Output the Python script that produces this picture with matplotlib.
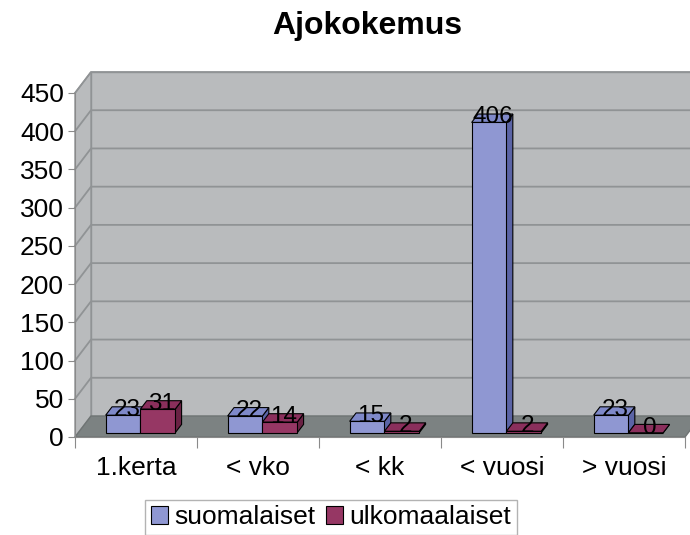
import matplotlib
matplotlib.use("Agg")
import matplotlib.pyplot as plt
from matplotlib.patches import Polygon, Patch
from matplotlib.ticker import FixedLocator, NullFormatter, FixedFormatter

plt.rcParams['font.family'] = ['Liberation Sans', 'DejaVu Sans']

title = "Ajokokemus"
categories = ["1.kerta", "< vko", "< kk", "< vuosi", "> vuosi"]
series_names = ["suomalaiset", "ulkomaalaiset"]
suomalaiset = [23, 22, 15, 406, 23]
ulkomaalaiset = [31, 14, 2, 2, 0]
y_ticks = [0, 50, 100, 150, 200, 250, 300, 350, 400, 450]

W, H = 690, 535
fig = plt.figure(figsize=(W / 100, H / 100), dpi=100)
ax_l, ax_r, ax_top, ax_bot = 75, 685, 93, 437
ax = fig.add_axes([ax_l / W, (H - ax_bot) / H, (ax_r - ax_l) / W, (ax_bot - ax_top) / H])
ncat = len(categories)
ymax = y_ticks[-1]
ax.set_xlim(0, ncat)
ax.set_ylim(0, ymax)

px_x = (ax_r - ax_l) / ncat
px_y = (ax_bot - ax_top) / ymax
DX = 16 / px_x
DY = 21 / px_y


def P(x, y, d):
    return (x + d * DX, y + d * DY)


wall = "#b9bbbd"
floor = "#7c8282"
grid = "#909395"

# back wall
ax.add_patch(Polygon([P(0, 0, 1), P(ncat, 0, 1), P(ncat, ymax, 1), P(0, ymax, 1)],
                     closed=True, facecolor=wall, edgecolor=grid, lw=1, clip_on=False, zorder=0))
# left wall
ax.add_patch(Polygon([P(0, 0, 0), P(0, 0, 1), P(0, ymax, 1), P(0, ymax, 0)],
                     closed=True, facecolor=wall, edgecolor=grid, lw=1, clip_on=False, zorder=0))
# gridlines
for v in y_ticks[1:]:
    ax.plot([P(0, v, 0)[0], P(0, v, 1)[0], P(ncat, v, 1)[0]],
            [P(0, v, 0)[1], P(0, v, 1)[1], P(ncat, v, 1)[1]],
            color=grid, lw=1.3, clip_on=False, zorder=1)
# floor
ax.add_patch(Polygon([P(0, 0, 0), P(ncat, 0, 0), P(ncat, 0, 1), P(0, 0, 1)],
                     closed=True, facecolor=floor, edgecolor="#6f7474", lw=1, clip_on=False, zorder=2))

colors = [("#8f97d2", "#7f89c9", "#5b64a6"), ("#963764", "#8a2f5c", "#6a2244")]
width = 0.285
start = 0.225
d0, d1 = 0.2, 0.6

for i in range(ncat):
    for s, vals in enumerate([suomalaiset, ulkomaalaiset]):
        v = vals[i]
        x0 = i + start + s * width
        x1 = x0 + width
        front, top, side = colors[s]
        kw = dict(closed=True, edgecolor="black", lw=0.8, clip_on=False, zorder=3 + i * 2 + s * 0.5)
        ax.add_patch(Polygon([P(x1, 0, d0), P(x1, v, d0), P(x1, v, d1), P(x1, 0, d1)], facecolor=side, **kw))
        ax.add_patch(Polygon([P(x0, v, d0), P(x1, v, d0), P(x1, v, d1), P(x0, v, d1)], facecolor=top, **kw))
        ax.add_patch(Polygon([P(x0, 0, d0), P(x1, 0, d0), P(x1, v, d0), P(x0, v, d0)], facecolor=front, **kw))

for i in range(ncat):
    for s, vals in enumerate([suomalaiset, ulkomaalaiset]):
        v = vals[i]
        xc = i + start + s * width + width / 2
        tx, ty = P(xc, v, 0.45)
        ax.text(tx, ty, str(v), ha="center", va="center", fontsize=17.5, color="black",
                zorder=50, clip_on=False)

# axes styling
for sp in ["top", "right"]:
    ax.spines[sp].set_visible(False)
ax.spines["left"].set_color("#8a8a8a")
ax.spines["bottom"].set_color("#8a8a8a")
ax.spines["left"].set_zorder(20)
ax.patch.set_visible(False)

ax.set_yticks(y_ticks)
ax.set_yticklabels([str(t) for t in y_ticks], fontsize=19)
ax.tick_params(axis="y", length=5, color="#8a8a8a", pad=3)

ax.xaxis.set_major_locator(FixedLocator(range(ncat + 1)))
ax.xaxis.set_major_formatter(NullFormatter())
ax.xaxis.set_minor_locator(FixedLocator([i + 0.5 for i in range(ncat)]))
ax.xaxis.set_minor_formatter(FixedFormatter(categories))
ax.tick_params(axis="x", which="major", length=8, color="#8a8a8a")
ax.tick_params(axis="x", which="minor", length=0, labelsize=19, pad=14)

fig.text(367 / W, 1 - 26 / H, title, ha="center", va="center", fontsize=23, fontweight="bold")

handles = [Patch(facecolor=colors[0][0], edgecolor="black", lw=0.8),
           Patch(facecolor=colors[1][0], edgecolor="black", lw=0.8)]
fig.legend(handles, series_names, loc="upper center", bbox_to_anchor=(331 / W, 1 - 500 / H),
           ncol=2, fontsize=19, frameon=True, fancybox=False, edgecolor="#a0a0a0",
           handlelength=0.65, handleheight=0.65, handletextpad=0.25, columnspacing=0.4,
           borderpad=0.2, borderaxespad=0)

fig.savefig("out.png", dpi=100)
